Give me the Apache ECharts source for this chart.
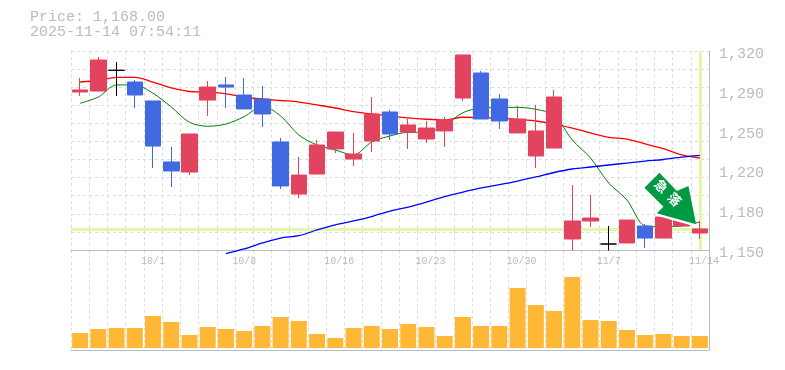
<!DOCTYPE html>
<html>
<head>
<meta charset="utf-8">
<style>html,body{margin:0;padding:0;background:#fff}#c{width:785px;height:370px}</style>
<script src="https://cdn.jsdelivr.net/npm/echarts@6/dist/echarts.min.js"></script>
</head>
<body>
<div id="c"></div>
<script>
const categories = ['9/25','9/26','9/29','9/30','10/1','10/2','10/3','10/6','10/7','10/8','10/9','10/10','10/14','10/15','10/16','10/17','10/20','10/21','10/22','10/23','10/24','10/27','10/28','10/29','10/30','10/31','11/4','11/5','11/6','11/7','11/10','11/11','11/12','11/13','11/14'];
const openPrices  = [1285,1285.8,1303.5,1293.5,1277.3,1225.2,1216.6,1278.1,1291,1282.4,1279,1242.3,1197.8,1214.9,1236.3,1227.7,1243.1,1267.9,1250.8,1244.8,1251.7,1279.8,1301.2,1279,1250,1230.3,1237.1,1159.4,1174.8,1155.1,1156,1170.5,1160.2,1170.5,1164.5];
const closePrices = [1286.7,1312.3,1303.5,1282.4,1238.8,1217.5,1249.1,1289.2,1289.2,1270.5,1266.2,1204.7,1214,1239.7,1250.8,1232,1266.2,1249.1,1256.8,1254.2,1261.1,1316.6,1261.9,1260.2,1261.9,1251.7,1280.7,1174.8,1177.3,1155.1,1175.6,1160.2,1178.2,1175.6,1168];
const lowPrices   = [1281.6,1285.8,1281.6,1271.3,1220,1203.8,1214,1264.5,1271.3,1270.5,1255.1,1202.1,1194.4,1214.9,1232.9,1221.8,1233.7,1244,1236.3,1241.4,1238,1277.3,1261.9,1253.4,1250,1220,1237.1,1149.5,1169.6,1149.5,1156,1151.7,1160.2,1170.5,1159.4];
const highPrices  = [1296.9,1314.9,1310.6,1295.2,1277.3,1238,1249.1,1294.4,1297.8,1296.9,1290.1,1245.7,1229.4,1244,1250.8,1250,1280.7,1269.6,1261.9,1260.2,1263.6,1316.6,1302.9,1283.3,1273,1273.9,1286.7,1205.5,1197,1170.5,1175.6,1172.2,1178.2,1175.6,1174.8];
const redLine   = [1293.5,1294.8,1297.4,1297.5,1293.5,1288.4,1285.4,1285,1283.3,1280.7,1279,1277.7,1276.4,1273.9,1271.3,1268.3,1266.2,1264.5,1262.8,1261.7,1261.1,1263.4,1263.2,1262.8,1261.5,1260.2,1257.6,1254.2,1250,1246.3,1244.8,1240.6,1236.5,1231.2,1228.6];
const greenLine = [1275.3,1280.7,1291,1291,1283.9,1272.2,1259.1,1255.7,1257.6,1263.9,1273,1264.5,1248.2,1239.7,1235.4,1231.2,1242.3,1247.4,1250.5,1250.5,1256.8,1267.3,1271.3,1271.6,1271.9,1270.2,1265.3,1244,1228.6,1207.2,1192.7,1170.5,1169.9,1170.5,1173.9];
const blueLine  = [null,null,null,null,null,null,null,null,1147,1150.9,1156,1160.2,1162.2,1167.1,1171.4,1174.8,1178.6,1183.3,1186.7,1191,1195.7,1199.5,1203,1205.9,1208.9,1212.4,1216.2,1219.2,1220.9,1222.6,1224.3,1226,1227.3,1229.4,1230.9];
const volumes   = [15000,19000,20000,20000,32000,26000,13000,21000,19000,17000,22000,31000,27000,14000,10000,20000,22000,19000,24000,21000,12000,31000,22000,22000,60000,43000,37000,71000,28000,27000,18000,13000,14000,12000,12000];
const priceTicks = [1150,1184,1218,1252,1286,1320];
const priceLabels = ['1,150','1,180','1,220','1,250','1,290','1,320'];
const currentPrice = 1168;
const headline = 'Price: 1,168.00\n2025-11-14 07:54:11';
const arrowText = '急  落';

const MONO = '"Liberation Mono", monospace';
const GREY = '#bbbbbb';
const GRID = '#dddddd';
const ARROW = 'path://M15 0L32.4 18.3L44 13.3L51.7 51.6L12.4 40.6L19 34L0 15Z';
const dash = {show:true, interval:0, lineStyle:{color:GRID, type:[3,3], width:1}};

const chart = echarts.init(document.getElementById('c'), null, {renderer:'canvas'});
chart.setOption({
  animation:false,
  backgroundColor:'#fff',
  title:{text:headline, left:30, top:10, padding:0,
    textStyle:{fontFamily:MONO, fontSize:15, fontWeight:'normal', color:GREY, lineHeight:15}},
  grid:[
    {left:71, top:51, width:638, height:199},
    {left:71, top:250, width:638, height:100}
  ],
  xAxis:[
    {type:'category', gridIndex:0, data:categories, boundaryGap:true,
     axisLine:{show:true, onZero:false, lineStyle:{color:GREY}}, axisTick:{show:false}, splitLine:dash,
     axisLabel:{show:true, interval:(i)=>i%5===4, margin:6, color:GREY, fontFamily:MONO, fontSize:10,
       formatter:(v)=>v.length>4?'{w|'+v+'}':v, rich:{w:{padding:[0,0,0,8], color:GREY, fontFamily:MONO, fontSize:10}}}},
    {type:'category', gridIndex:1, data:categories, boundaryGap:true,
     axisLine:{show:true, onZero:false, lineStyle:{color:GREY}}, axisTick:{show:false}, splitLine:dash, axisLabel:{show:false}}
  ],
  yAxis:[
    {type:'value', gridIndex:0, position:'right', min:1150, max:1320, scale:true,
     axisLine:{show:true, lineStyle:{color:GREY}}, axisTick:{show:false}, splitLine:{show:false},
     axisLabel:{show:true, customValues:priceTicks, margin:10, color:GREY, fontFamily:MONO, fontSize:15,
       formatter:(v)=>'{p|'+priceLabels[priceTicks.indexOf(v)]+'}',
       rich:{p:{padding:[6,0,0,0], color:GREY, fontFamily:MONO, fontSize:15}}}},
    {type:'value', gridIndex:0, position:'left', min:0, max:11, interval:1,
     axisLine:{show:false}, axisTick:{show:false}, axisLabel:{show:false},
     splitLine:{show:true, lineStyle:{color:GRID, type:[3,3], width:1}}},
    {type:'value', gridIndex:1, position:'right', min:-2000, max:98000,
     axisLine:{show:true, lineStyle:{color:GREY}}, axisTick:{show:false}, axisLabel:{show:false}, splitLine:{show:false}}
  ],
  series:[
    {type:'line', name:'band', xAxisIndex:0, yAxisIndex:0, data:[], z:1, silent:true,
     markLine:{z:1, silent:true, symbol:'none', label:{show:false}, animation:false,
       lineStyle:{color:'#e3f7a7', width:3, type:'solid'},
       data:[{yAxis:currentPrice},{xAxis:categories[categories.length-1]}]}},
    {type:'line', name:'red', xAxisIndex:0, yAxisIndex:0, data:redLine, showSymbol:false, z:2, clip:false, smooth:0.3,
     lineStyle:{color:'#ff0000', width:1.3}},
    {type:'line', name:'green', xAxisIndex:0, yAxisIndex:0, data:greenLine, showSymbol:false, z:2, clip:false, smooth:0.3,
     lineStyle:{color:'#008000', width:1}},
    {type:'line', name:'blue', xAxisIndex:0, yAxisIndex:0, data:blueLine, showSymbol:false, z:2, clip:false, smooth:0.3,
     lineStyle:{color:'#0000ff', width:1.3}},
    {type:'candlestick', name:'price', xAxisIndex:0, yAxisIndex:0, barWidth:16, z:3, clip:false,
     data:categories.map((c,i)=>[openPrices[i],closePrices[i],lowPrices[i],highPrices[i]]),
     itemStyle:{color:'#e2435f', color0:'#4169e1', borderColor:'#e2435f', borderColor0:'#4169e1', borderColorDoji:'#000000', borderWidth:1},
     markPoint:{z:6, silent:true, animation:false, data:[
       {coord:[33,1192], symbol:ARROW, symbolSize:[51.7,51.6], symbolOffset:[-11.4,0], itemStyle:{color:'#ffffff'}, label:{show:false}},
       {coord:[33,1194], symbol:ARROW, symbolSize:[51.7,51.6], symbolOffset:[-11.4,0], itemStyle:{color:'#009944'},
        label:{show:true, position:'inside', offset:[-5.7,-2.5], rotate:-45, formatter:arrowText, color:'#fff', fontFamily:'"Noto Sans CJK JP"', fontWeight:'bold', fontSize:13}}
     ]}},
    {type:'bar', name:'volume', xAxisIndex:1, yAxisIndex:2, data:volumes, barWidth:16, itemStyle:{color:'#ffb835'}}
  ]
});
</script>
</body>
</html>
